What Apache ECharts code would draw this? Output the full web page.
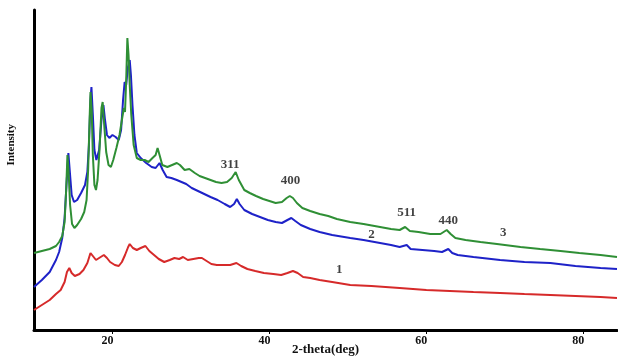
<!DOCTYPE html>
<html>
<head>
<meta charset="utf-8">
<script src="https://cdn.jsdelivr.net/npm/echarts@6/dist/echarts.min.js"></script>
<style>
  html, body { margin: 0; padding: 0; background: #fff; }
  #chart { width: 618px; height: 357px; }
</style>
</head>
<body>
<div id="chart"></div>
<script>
// 2-theta (deg), intensity (a.u.)
var curve1 = [
  [10.0,20],[11.0,25],[12.0,30],[12.8,36],[13.4,40],[13.9,48],[14.2,58],[14.5,62],[14.8,57],[15.2,54],
  [15.8,56],[16.3,60],[16.8,67],[17.2,77],[17.5,74],[17.9,70],[18.3,72],[18.9,75],[19.3,72],[19.7,68],
  [20.3,65],[20.8,64],[21.2,68],[21.6,75],[22.0,83],[22.2,86],[22.6,82],[23.1,80],[23.6,82],[24.2,84],
  [24.7,79],[25.3,75],[25.9,71],[26.6,68],[27.3,70],[27.9,72],[28.5,71],[29.0,73],[29.6,70],[30.3,71],
  [31.0,72],[31.4,72],[32.0,69],[32.6,66],[33.3,65],[34.2,65],[35.0,65],[35.8,67],[36.4,64],[37.2,61],
  [38.2,59],[39.3,57],[40.5,56],[41.5,55],[42.3,57],[43.0,59],[43.6,57],[44.3,53],[45.2,52],[46.4,50],
  [48.0,48],[50.3,45],[53.0,44],[56.6,42],[60.0,40],[63.0,39],[66.0,38],[69.4,37],[72.5,36],[75.8,35],
  [79.0,34],[82.2,33],[84.3,32]
];

var curve2 = [
  [10.0,43],[11.0,50],[12.0,58],[12.8,70],[13.2,78],[13.6,92],[13.9,112],[14.1,140],[14.38,177],[14.55,160],
  [14.8,135],[15.1,128],[15.5,130],[16.0,137],[16.5,145],[16.8,158],[17.0,185],[17.2,230],[17.32,243],[17.5,215],
  [17.7,180],[17.95,170],[18.3,180],[18.6,210],[18.85,225],[19.05,210],[19.3,195],[19.6,192],[20.0,195],[20.4,193],
  [20.8,190],[21.1,200],[21.35,230],[21.55,248],[21.75,245],[21.95,262],[22.2,270],[22.35,255],[22.55,225],[22.8,195],
  [23.1,177],[23.6,172],[24.3,167],[25.0,163],[25.5,162],[26.0,167],[26.4,160],[26.9,153],[27.5,152],[28.2,150],
  [28.8,148],[29.4,146],[30.1,142],[30.9,139],[31.7,136],[32.5,133],[33.4,130],[34.3,126],[35.0,123],[35.5,126],
  [35.85,131],[36.2,126],[36.8,120],[37.8,116],[38.8,113],[39.8,110],[40.8,108],[41.6,107],[42.3,110],[42.8,112],
  [43.3,109],[44.0,105],[45.2,101],[46.4,98],[48.0,95],[50.3,92],[52.0,90],[54.1,87],[55.5,85],[56.6,83],
  [57.5,85],[58.0,81],[59.5,80],[61.0,79],[62.0,78],[62.8,81],[63.3,77],[64.0,75],[66.0,73],[69.4,70],
  [72.5,68],[75.8,67],[79.0,64],[82.2,62],[84.3,61]
];

var curve3 = [
  [10.0,77],[11.0,79],[12.0,81],[12.8,84],[13.2,88],[13.6,94],[13.9,108],[14.1,140],[14.26,175],[14.4,160],
  [14.6,125],[14.85,106],[15.15,102],[15.5,105],[16.0,111],[16.4,118],[16.7,130],[16.9,160],[17.1,215],[17.2,238],
  [17.35,220],[17.5,175],[17.7,145],[17.9,140],[18.1,150],[18.35,180],[18.6,222],[18.75,228],[18.95,205],[19.2,178],
  [19.5,165],[19.8,163],[20.1,170],[20.5,182],[20.9,195],[21.2,210],[21.45,222],[21.6,218],[21.75,250],[21.9,292],
  [22.05,275],[22.2,245],[22.4,215],[22.7,185],[23.1,172],[23.6,170],[24.1,170],[24.6,168],[25.1,172],[25.5,175],
  [25.75,182],[26.0,175],[26.35,165],[27.0,163],[27.6,165],[28.2,167],[28.6,165],[29.2,160],[29.8,161],[30.5,157],
  [31.1,154],[31.8,152],[32.5,150],[33.2,148],[33.9,147],[34.6,148],[35.2,152],[35.7,158],[36.1,150],[36.8,140],
  [37.5,137],[38.3,134],[39.2,131],[40.0,129],[40.8,127],[41.6,128],[42.2,132],[42.6,134],[43.0,132],[43.5,127],
  [44.2,122],[45.2,119],[46.4,116],[47.5,114],[48.6,111],[50.3,108],[52.0,106],[54.1,103],[55.5,101],[56.6,100],
  [57.3,103],[57.9,99],[59.0,98],[60.5,96],[61.8,96],[62.6,100],[63.1,96],[63.7,92],[65.0,90],[66.9,88],
  [69.0,86],[72.0,83],[74.5,81],[77.1,79],[79.5,77],[82.2,75],[84.3,73]
];

// peak indices and curve numbers written on the plot
var annoText = ["311", "400", "511", "440", "1", "2", "3"];
var annoX = [35.0, 42.7, 57.5, 62.8, 48.9, 53.0, 69.8];
var annoY = [165, 149, 117, 109, 60, 95, 97];

var xTicks = [20, 40, 60, 80];

var chart = echarts.init(document.getElementById("chart"));

var annoData = annoText.map(function (t, i) {
  return { value: [annoX[i], annoY[i]], name: t };
});

var option = {
  animation: false,
  backgroundColor: "#fff",
  grid: { left: 34, right: 1, top: 10, bottom: 27, containLabel: false, outerBoundsMode: "none" },
  xAxis: {
    type: "value",
    min: 10,
    max: 84.3,
    name: "2-theta(deg)",
    nameLocation: "middle",
    nameGap: 13,
    nameMoveOverlap: false,
    nameTextStyle: {
      fontFamily: "Liberation Serif",
      fontWeight: "bold",
      fontSize: 13,
      color: "#111"
    },
    axisLine: { show: true, onZero: false, lineStyle: { color: "#000", width: 3 } },
    axisTick: { show: true, length: 4, customValues: xTicks, lineStyle: { color: "#000", width: 1 } },
    axisLabel: {
      show: true,
      customValues: xTicks,
      margin: 5,
      padding: [0, 10, 0, 0],
      fontFamily: "Liberation Serif",
      fontWeight: "bold",
      fontSize: 12,
      color: "#111"
    },
    splitLine: { show: false }
  },
  yAxis: {
    type: "value",
    min: 0,
    max: 320,
    axisLine: { show: true, lineStyle: { color: "#000", width: 3 } },
    axisTick: { show: false },
    axisLabel: { show: false },
    splitLine: { show: false }
  },
  graphic: [
    {
      type: "text",
      left: 6,
      top: 124,
      rotation: Math.PI / 2,
      style: {
        text: "Intensity",
        font: "bold 11px 'Liberation Serif'",
        fill: "#111"
      }
    }
  ],
  series: [
    {
      name: "1",
      type: "line",
      data: curve1,
      symbol: "none",
      lineStyle: { color: "#d62a2a", width: 2 }
    },
    {
      name: "2",
      type: "line",
      data: curve2,
      symbol: "none",
      lineStyle: { color: "#1e22c8", width: 2 }
    },
    {
      name: "3",
      type: "line",
      data: curve3,
      symbol: "none",
      lineStyle: { color: "#2f8f35", width: 2 }
    },
    {
      name: "labels",
      type: "scatter",
      data: annoData,
      symbolSize: 0,
      label: {
        show: true,
        position: "inside",
        formatter: "{b}",
        fontFamily: "Liberation Serif",
        fontWeight: "bold",
        fontSize: 13,
        color: "#111"
      },
      z: 5
    }
  ]
};

chart.setOption(option);
</script>
</body>
</html>
